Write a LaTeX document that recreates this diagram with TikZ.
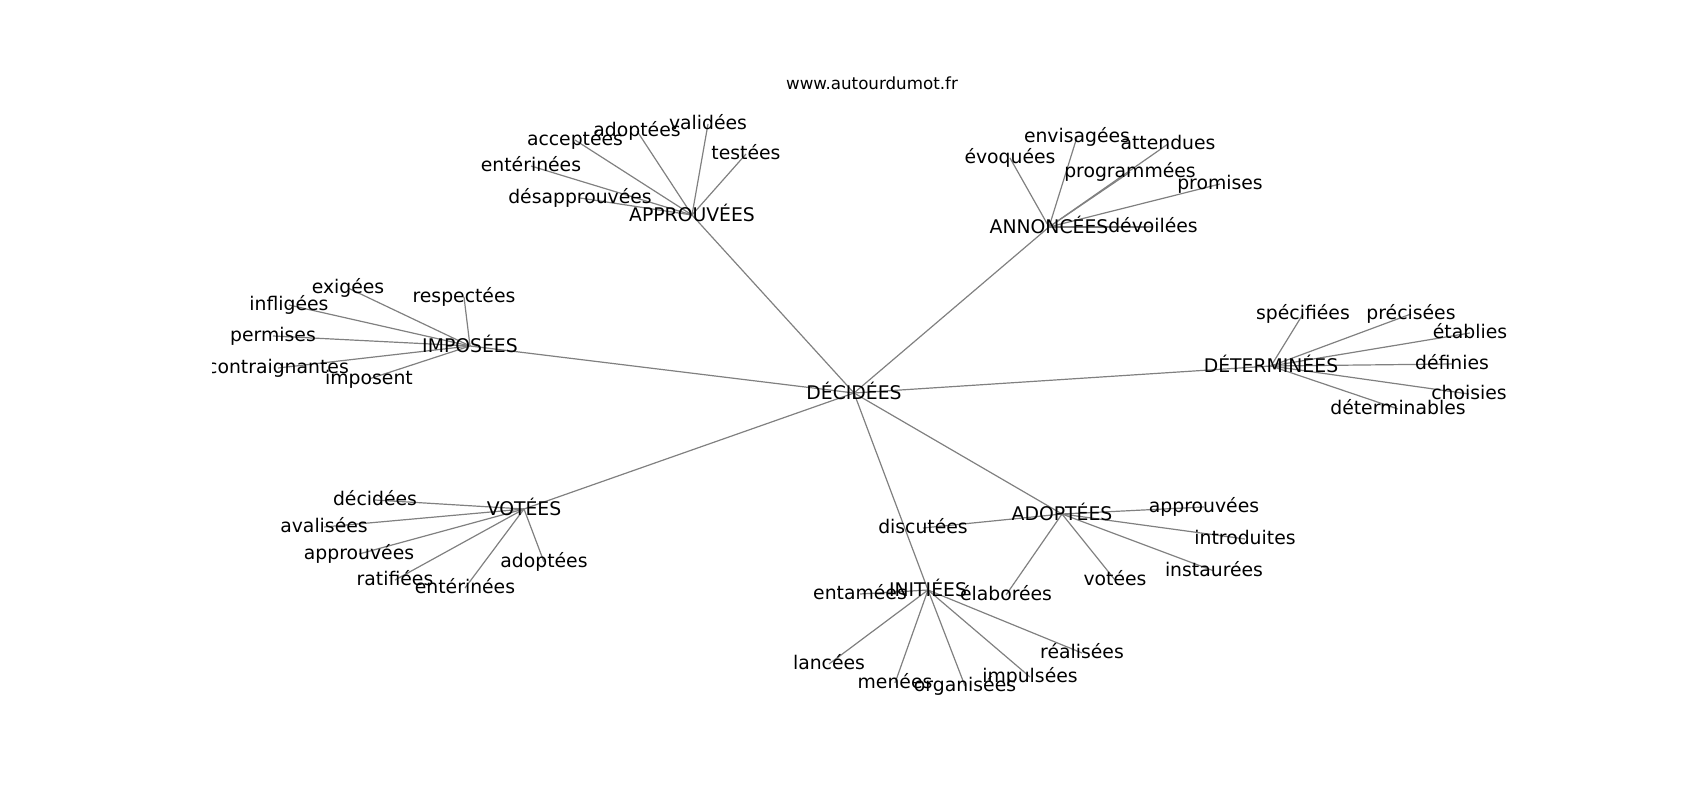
\documentclass[tikz,border=0pt]{standalone}
\usepackage{fontspec}
\setmainfont{DejaVu Sans}
\usetikzlibrary{backgrounds}
\newcommand\wordfont{\fontsize{18.8}{22}\selectfont}
\newcommand\sitefont{\fontsize{16.7}{20}\selectfont}
\tikzset{
  word/.style={font=\wordfont, inner sep=0pt, execute at begin node={\vphantom{lp}}},
  link/.style={draw=gray, line width=1.2pt}
}
\begin{document}
\begin{tikzpicture}[x=1pt, y=-1pt]
    \useasboundingbox (0,0) rectangle (1700,800);
    \node[font=\sitefont, inner sep=0pt] (site) at (872,83) {www.autourdumot.fr};
    \begin{scope}
      \clip (212.5,96) rectangle (1530,712);
      % centre and hubs
      \node[word] (decidees) at (854,393) {DÉCIDÉES};
      \node[word] (approuvees) at (692,215) {APPROUVÉES};
      \node[word] (annoncees) at (1049,227) {ANNONCÉES};
      \node[word] (imposees) at (470,346) {IMPOSÉES};
      \node[word] (determinees) at (1271,366) {DÉTERMINÉES};
      \node[word] (votees) at (524,509) {VOTÉES};
      \node[word] (adoptees) at (1062,514) {ADOPTÉES};
      \node[word] (initiees) at (928,590) {INITIÉES};
      \begin{scope}[on background layer]
        \foreach \h in {approuvees,annoncees,imposees,determinees,votees,adoptees,initiees}
          \draw[link] (decidees.center) -- (\h.center);
      \end{scope}
      % leaves
      \foreach \n/\x/\y/\t in {1/708/124/validées, 2/637/131/adoptées, 3/575/140/acceptées,
          4/746/154/testées, 5/531/166/entérinées, 6/580/198/désapprouvées} {
        \node[word] (ap\n) at (\x,\y) {\t};
        \begin{scope}[on background layer]
          \draw[link] (approuvees.center) -- (ap\n.center);
        \end{scope}
      }
      \foreach \n/\x/\y/\t in {1/1077/137/envisagées, 2/1168/144/attendues, 3/1010/158/évoquées,
          4/1130/172/programmées, 5/1220/184/promises, 6/1153/227/dévoilées} {
        \node[word] (an\n) at (\x,\y) {\t};
        \begin{scope}[on background layer]
          \draw[link] (annoncees.center) -- (an\n.center);
        \end{scope}
      }
      \foreach \n/\x/\y/\t in {1/348/288/exigées, 2/464/297/respectées, 3/289/305/infligées,
          4/273/336/permises, 5/278/368/contraignantes, 6/369/379/imposent} {
        \node[word] (im\n) at (\x,\y) {\t};
        \begin{scope}[on background layer]
          \draw[link] (imposees.center) -- (im\n.center);
        \end{scope}
      }
      \foreach \n/\x/\y/\t in {1/1303/314/spécifiées, 2/1411/314/précisées, 3/1470/333/établies,
          4/1452/364/définies, 5/1469/394/choisies, 6/1398/409/déterminables} {
        \node[word] (de\n) at (\x,\y) {\t};
        \begin{scope}[on background layer]
          \draw[link] (determinees.center) -- (de\n.center);
        \end{scope}
      }
      \foreach \n/\x/\y/\t in {1/375/500/décidées, 2/324/527/avalisées, 3/359/554/approuvées,
          4/544/562/adoptées, 5/395/580/ratifiées, 6/465/588/entérinées} {
        \node[word] (vo\n) at (\x,\y) {\t};
        \begin{scope}[on background layer]
          \draw[link] (votees.center) -- (vo\n.center);
        \end{scope}
      }
      \foreach \n/\x/\y/\t in {1/1204/507/approuvées, 2/923/528/discutées, 3/1245/539/introduites,
          4/1214/571/instaurées, 5/1115/580/votées, 6/1006/595/élaborées} {
        \node[word] (ad\n) at (\x,\y) {\t};
        \begin{scope}[on background layer]
          \draw[link] (adoptees.center) -- (ad\n.center);
        \end{scope}
      }
      \foreach \n/\x/\y/\t in {1/860/594/entamées, 2/1082/653/réalisées, 3/829/664/lancées,
          4/1030/677/impulsées, 5/895/683/menées, 6/965/686/organisées} {
        \node[word] (in\n) at (\x,\y) {\t};
        \begin{scope}[on background layer]
          \draw[link] (initiees.center) -- (in\n.center);
        \end{scope}
      }
    \end{scope}
\end{tikzpicture}
\end{document}
